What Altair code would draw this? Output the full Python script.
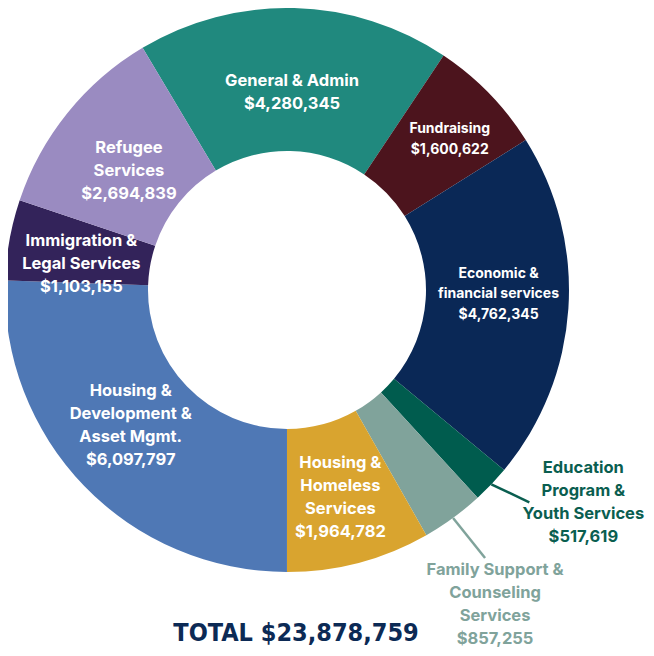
import math
import altair as alt
import pandas as pd

names = ["General & Admin", "Fundraising", "Economic & financial services",
         "Education Program & Youth Services", "Family Support & Counseling Services",
         "Housing & Homeless Services", "Housing & Development & Asset Mgmt.",
         "Immigration & Legal Services", "Refugee Services"]
labels = ["General & Admin", "Fundraising", "Economic &\nfinancial services",
          "Education\nProgram &\nYouth Services", "Family Support &\nCounseling\nServices",
          "Housing &\nHomeless\nServices", "Housing &\nDevelopment &\nAsset Mgmt.",
          "Immigration &\nLegal Services", "Refugee\nServices"]
values = [4280345, 1600622, 4762345, 517619, 857255, 1964782, 6097797, 1103155, 2694839]
colors = ["#20897e", "#4c141d", "#0a2856", "#005c4e", "#80a39b",
          "#d9a42f", "#4f78b5", "#33235a", "#9a8bc1"]

df = pd.DataFrame({"name": names, "label": labels, "value": values,
                   "order": list(range(len(names)))})

START = -0.5376
CX, CY = 279, 282
R_OUT, R_IN = 282, 139
FONT = "Inter"

# small hand nudges of label placement (layout, not data)
NUDGE_X = {1: 5, 2: -8, 6: -6}
NUDGE_Y = {1: 3, 2: -10, 5: 5, 6: -10, 7: 11, 8: 8}


def nudge_expr(d):
    e = "0"
    for k, v in d.items():
        e = f"(datum.order == {k} ? {v} : {e})"
    return e


theta = alt.Theta("value:Q", stack=True,
                  scale=alt.Scale(range=[START, START + 2 * math.pi]))
color = alt.Color("name:N", scale=alt.Scale(domain=names, range=colors), legend=None)
order = alt.Order("order:Q")

base = alt.Chart(df)

arcs = base.mark_arc(innerRadius=R_IN, radius=R_OUT).encode(
    theta=theta, color=color, order=order)

# geometry derived from the data: mid-angle of each slice
geo = base.transform_joinaggregate(total="sum(value)").transform_window(
    cum="sum(value)", sort=[alt.SortField("order")], frame=[None, 0]
).transform_calculate(
    ang=f"2*PI*(datum.cum - datum.value/2)/datum.total + ({START})",
    nl="length(split(datum.label, '\\n')) + 1",
    txt="datum.label + '\\n' + format(datum.value, '$,')",
)


def inner_layer(test, r_expr, size, lh):
    g = geo.transform_filter(test).transform_calculate(
        r=r_expr
    ).transform_calculate(
        tx=f"{CX} + datum.r*sin(datum.ang) + {nudge_expr(NUDGE_X)}",
        ty=f"{CY} - datum.r*cos(datum.ang) - (datum.nl - 1)*{lh}/2 + {nudge_expr(NUDGE_Y)}",
    )
    return g.mark_text(fontSize=size, font=FONT, fontWeight="bold", color="white",
                       lineBreak="\n", lineHeight=lh, align="center",
                       baseline="middle").encode(
        x=alt.X("tx:Q", scale=None), y=alt.Y("ty:Q", scale=None), text="txt:N")


big_text = inner_layer("datum.value >= 1000000 && datum.order != 1 && datum.order != 2",
                       "datum.order == 0 ? 198 : (datum.order == 8 ? 203 : 209)", 16.5, 23)
small_text = inner_layer("datum.order == 1 || datum.order == 2", "220", 14, 20.5)


def external(test, ddx, ddy, tdx, tdy, col):
    g = geo.transform_filter(test).transform_calculate(
        x1=f"{CX} + {R_OUT}*sin(datum.ang)",
        y1=f"{CY} - {R_OUT}*cos(datum.ang)",
    ).transform_calculate(
        x2=f"datum.x1 + {ddx}", y2=f"datum.y1 + {ddy}",
    ).transform_calculate(
        tx=f"datum.x2 + {tdx}", ty=f"datum.y2 + {tdy} - (datum.nl - 1)*23/2",
    )
    rule = g.mark_rule(color=col, strokeWidth=2.5).encode(
        x=alt.X("x1:Q", scale=None), y=alt.Y("y1:Q", scale=None),
        x2="x2:Q", y2="y2:Q")
    txt = g.mark_text(fontSize=16.5, font=FONT, fontWeight="bold", color=col,
                      lineBreak="\n", lineHeight=23, align="center",
                      baseline="middle").encode(
        x=alt.X("tx:Q", scale=None), y=alt.Y("ty:Q", scale=None), text="txt:N")
    return [rule, txt]


ext = (external("datum.order == 3", 38, 18, 54, 0, "#0a5e50")
       + external("datum.order == 4", 32, 40, 10, 47, "#80a39b"))

total_text = f"TOTAL ${sum(values):,}"

chart = alt.layer(arcs, big_text, small_text, *ext).properties(
    width=558, height=564,
    autosize=alt.AutoSizeParams(type="none"),
    padding={"left": 0, "top": 0, "right": 80, "bottom": 76},
    title=alt.TitleParams(total_text, orient="bottom", anchor="middle", frame="group",
                          font="'DejaVu Sans Condensed', sans-serif",
                          fontSize=25, fontWeight="bold", color="#0c2a55",
                          baseline="alphabetic", offset=-7, dx=9),
).configure_view(stroke=None)

chart.save("out.html", embed_options={"renderer": "svg", "actions": False})
